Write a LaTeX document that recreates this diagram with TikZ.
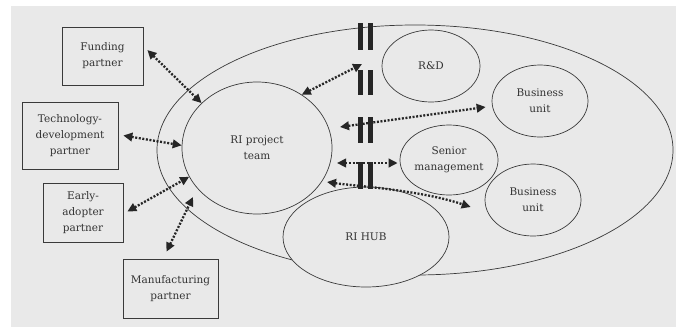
\documentclass[tikz,border=0pt]{standalone}
\usepackage{fontspec}
\setmainfont{DejaVu Serif}
\usetikzlibrary{arrows.meta,shapes.geometric}
\definecolor{paper}{HTML}{E9E9E9}
\definecolor{ink}{HTML}{3A3A3A}
\definecolor{type}{HTML}{333333}
\begin{document}
\begin{tikzpicture}[x=1pt,y=-1pt,
  every node/.style={font=\fontsize{10.5}{16}\selectfont, text=type, align=center},
  partnerbox/.style={draw=ink, line width=0.7pt, rectangle, inner sep=0pt},
  unit/.style={draw=ink, line width=0.7pt, ellipse, inner sep=0pt},
  link/.style={line width=2.3pt, dash pattern=on 2pt off 1.6pt, draw=black!85,
    {Triangle[length=9pt,width=8.5pt]}-{Triangle[length=9pt,width=8.5pt]}},
  barrier/.style={fill=black!85, draw=none}]
% page and paper
\useasboundingbox (0,0) rectangle (676,327);
\fill[white] (0,0) rectangle (676,327);
\fill[paper] (11,6) rectangle (676,327);

% organisation boundary
\node[unit, minimum width=516pt, minimum height=250pt] (org) at (415,150) {};

% internal units
\node[unit, minimum width=150pt, minimum height=132pt] (team) at (257,148) {RI project\\team};
\node[unit, minimum width=166pt, minimum height=100pt, fill=paper] (hub) at (366,237) {RI HUB};
\node[unit, minimum width=98pt, minimum height=72pt] (rd) at (431,66) {R\&D};
\node[unit, minimum width=96pt, minimum height=72pt] (bu1) at (540,101) {Business\\unit};
\node[unit, minimum width=98pt, minimum height=70pt] (sen) at (449,160) {Senior\\management};
\node[unit, minimum width=96pt, minimum height=72pt] (bu2) at (533,200) {Business\\unit};

% external partners
\node[partnerbox, minimum width=81pt, minimum height=58pt] (fund) at (102.5,56) {Funding\\partner};
\node[partnerbox, minimum width=96pt, minimum height=67pt] (tech) at (70,135.5) {Technology-\\development\\partner};
\node[partnerbox, minimum width=80pt, minimum height=59pt] (early) at (83,212.5) {Early-\\adopter\\partner};
\node[partnerbox, minimum width=95pt, minimum height=59pt] (manu) at (170.5,288.5) {Manufacturing\\partner};

% connector end points
\coordinate (fundEnd) at ([xshift=4pt,yshift=6pt]fund.east);
\coordinate (techEnd) at ([xshift=5pt]tech.east);
\coordinate (earlyEnd) at ([xshift=4pt,yshift=1pt]early.east);
\coordinate (manuEnd) at ([xshift=-4pt,yshift=7pt]manu.north);
\coordinate (teamLow) at (193,197);
\coordinate (rdEnd) at (362,64);
\coordinate (teamA) at (340,127);
\coordinate (bu1End) at ([xshift=-6pt,yshift=-6pt]bu1.west);
\coordinate (teamB) at (337,163);
\coordinate (senEnd) at ([xshift=-2pt,yshift=-3pt]sen.west);
\coordinate (teamC) at (327,182);
\coordinate (bu2End) at ([xshift=-14pt,yshift=-7pt]bu2.west);

% links to partners
\draw[link] (fundEnd) -- (team.141);
\draw[link] (techEnd) -- (team.178);
\draw[link] (earlyEnd) -- (team.203);
\draw[link] (manuEnd) -- (teamLow);

% links across the organisation
\draw[link] (team.50) -- (rdEnd);
\draw[link] (teamA) -- (bu1End);
\draw[link] (teamB) -- (senEnd);
\draw[link] (teamC) .. controls (355,186) and (420,190) .. (bu2End);

% barriers
\foreach \yt/\yb in {23/50, 70/95, 117/143, 162/189}{
  \fill[barrier] (357.5,\yt) rectangle (362.5,\yb);
  \fill[barrier] (367.5,\yt) rectangle (372.5,\yb);
}
\end{tikzpicture}
\end{document}
